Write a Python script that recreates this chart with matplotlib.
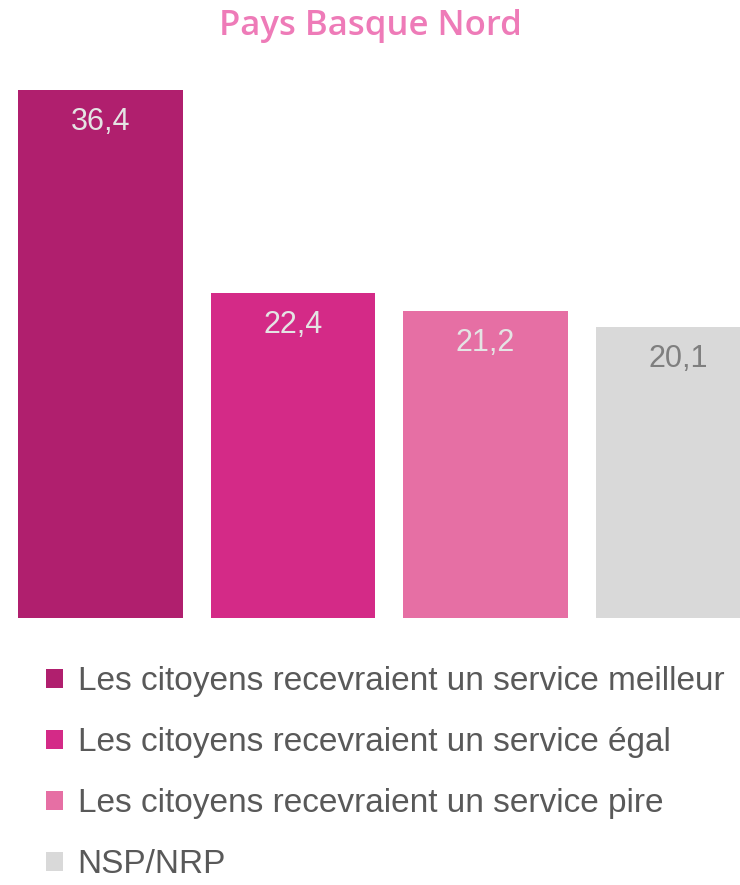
import matplotlib
matplotlib.use("Agg")
import matplotlib.pyplot as plt

# data
labels = [
    "Les citoyens recevraient un service meilleur",
    "Les citoyens recevraient un service égal",
    "Les citoyens recevraient un service pire",
    "NSP/NRP",
]
values = [36.4, 22.4, 21.2, 20.1]
value_labels = ["36,4", "22,4", "21,2", "20,1"]

colors = ["#b01f6e", "#d42a87", "#e66fa4", "#d9d9d9"]
text_colors = ["#e4e4e4", "#e4e4e4", "#e4e4e4", "#7f7f7f"]

fig = plt.figure(figsize=(7.4, 8.85), dpi=100)
# axes spans pixel x 0..740, y 60..618 (from top)
ax = fig.add_axes([0, 1 - 618 / 885, 1, (618 - 60) / 885])

x = range(len(values))
bars = ax.bar(x, values, width=0.857, color=colors, label=labels)
ax.set_xlim(-0.522, 3.322)
ax.set_ylim(0, 38.48)
ax.axis("off")

for xi, v, txt, c in zip(x, values, value_labels, text_colors):
    ax.annotate(txt, (xi, v), xytext=(0, -32), textcoords="offset pixels",
                ha="center", va="center", fontsize=22, color=c,
                family="Liberation Sans")

fig.text(0.5, 1 - 26 / 885, "Pays Basque Nord", ha="center", va="center",
         fontsize=25, color="#ee7bb8", family="Open Sans", fontweight="semibold")

fig.legend(bars, labels, loc="upper left", bbox_to_anchor=(46 / 740, 1 - 666 / 885),
           frameon=False, handlelength=0.5, handleheight=0.5, handletextpad=0.45,
           labelspacing=0.9, borderaxespad=0, borderpad=0,
           prop={"family": "Liberation Sans", "size": 24}, labelcolor="#595959")

fig.savefig("out.png", dpi=100)
